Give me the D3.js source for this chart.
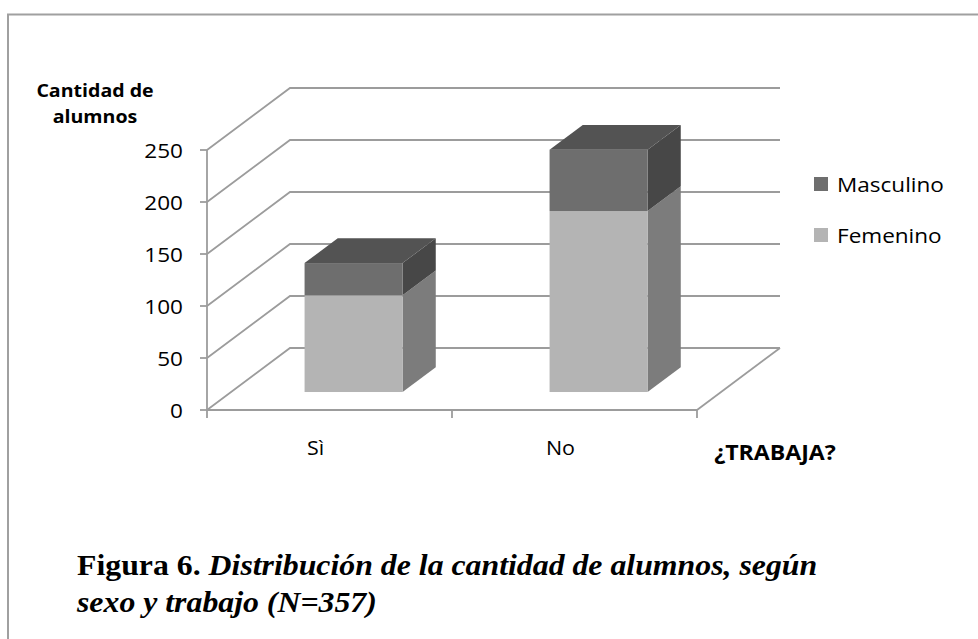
<!DOCTYPE html>
<html>
<head>
<meta charset="utf-8">
<script src="https://cdn.jsdelivr.net/npm/d3@7"></script>
<style>
  html, body { margin: 0; padding: 0; background: #ffffff; }
  svg { display: block; }
</style>
</head>
<body>
<svg id="chart" width="978" height="639"></svg>
<script>
// ---- data ----
const categories = ["Sì", "No"];
const seriesNames = ["Femenino", "Masculino"];
const femenino = [93, 174];
const masculino = [31, 59];
const yTicks = [0, 50, 100, 150, 200, 250];
const legendOrder = ["Masculino", "Femenino"];

// ---- styles ----
const colors = {
  Femenino: { front: "#b4b4b4", side: "#7c7c7c", top: "#9a9a9a" },
  Masculino: { front: "#6e6e6e", side: "#474747", top: "#535353" }
};
const gridColor = "#9c9c9c";
const sx = 1.1; // horizontal stretch of sans text

const svg = d3.select("#chart");

// outer frame
svg.append("path")
  .attr("d", "M8,700 L8,14.5 L1000,14.5")
  .attr("fill", "none").attr("stroke", "#a0a0a0").attr("stroke-width", 2);

// ---- geometry ----
const x0 = 207, x1 = 697;
const y = d3.scaleLinear().domain([0, 250]).range([410, 150]);
const x = d3.scaleBand().domain(categories).range([x0, x1]).paddingInner(0).paddingOuter(0);
const DX = 83, DY = -62;               // full depth offset
const off = f => [DX * f, DY * f];
const fFront = 0.29, fBack = 0.69;      // bar depth position
const barFrac = 0.4;

const g = svg.append("g");

// back wall gridlines + side wall diagonals
yTicks.forEach(t => {
  const yy = y(t);
  const [bx, by] = off(1);
  g.append("path")
    .attr("d", `M${x0},${yy} L${x0 + bx},${yy + by} L${x1 + bx},${yy + by}`)
    .attr("fill", "none").attr("stroke", gridColor).attr("stroke-width", 1.8);
});
// floor right edge
{
  const [bx, by] = off(1);
  g.append("path")
    .attr("d", `M${x1},${y(0)} L${x1 + bx},${y(0) + by}`)
    .attr("fill", "none").attr("stroke", gridColor).attr("stroke-width", 1.8);
}

// ---- bars ----
const stackData = categories.map((c, i) => ({ cat: c, Femenino: femenino[i], Masculino: masculino[i] }));
const stack = d3.stack().keys(seriesNames)(stackData);

categories.forEach((c, i) => {
  const [fx, fy] = off(fFront);
  const [bx2, by2] = off(fBack);
  const ddx = bx2 - fx, ddy = by2 - fy;
  const bw = x.bandwidth() * barFrac;
  const left = x(c) + (x.bandwidth() - bw) / 2 + fx;
  const right = left + bw;
  stack.forEach((layer, li) => {
    const key = layer.key;
    const [v0, v1] = layer[i];
    const yb = y(v0) + fy, yt = y(v1) + fy;
    g.append("path")
      .attr("d", `M${right},${yb} L${right + ddx},${yb + ddy} L${right + ddx},${yt + ddy} L${right},${yt} Z`)
      .attr("fill", colors[key].side);
    g.append("rect")
      .attr("x", left).attr("y", yt).attr("width", bw).attr("height", yb - yt)
      .attr("fill", colors[key].front);
    if (li === stack.length - 1) {
      g.append("path")
        .attr("d", `M${left},${yt} L${left + ddx},${yt + ddy} L${right + ddx},${yt + ddy} L${right},${yt} Z`)
        .attr("fill", colors[key].top);
    }
  });
});

// ---- front axes ----
g.append("line").attr("x1", x0).attr("x2", x0).attr("y1", y(0)).attr("y2", y(250))
  .attr("stroke", gridColor).attr("stroke-width", 1.8);
g.append("line").attr("x1", x0).attr("x2", x1).attr("y1", y(0)).attr("y2", y(0))
  .attr("stroke", gridColor).attr("stroke-width", 1.8);
yTicks.forEach(t => {
  g.append("line").attr("x1", x0 - 7).attr("x2", x0).attr("y1", y(t)).attr("y2", y(t))
    .attr("stroke", gridColor).attr("stroke-width", 1.8);
});
[x0, x(categories[1]), x1].forEach(xx => {
  g.append("line").attr("x1", xx).attr("x2", xx).attr("y1", y(0)).attr("y2", y(0) + 8)
    .attr("stroke", gridColor).attr("stroke-width", 1.8);
});

// helper for stretched text
function stext(px, py, txt, opts) {
  const gg = svg.append("g").attr("transform", `translate(${px},${py}) scale(${sx},1)`);
  return gg.append("text").attr("x", 0).attr("y", 0)
    .attr("font-family", "'Open Sans', sans-serif")
    .attr("font-size", opts.size || 20.5)
    .attr("font-weight", opts.bold ? "bold" : "normal")
    .attr("text-anchor", opts.anchor || "start")
    .attr("fill", "#000")
    .text(txt);
}

// y tick labels
yTicks.forEach(t => stext(183, y(t) + 7.5, String(t), { anchor: "end", size: 20.5 }));

// y-axis title
stext(95, 97, "Cantidad de", { anchor: "middle", bold: true, size: 17.8 });
stext(95, 123, "alumnos", { anchor: "middle", bold: true, size: 17.8 });

// category labels
categories.forEach(c => {
  const cx = x(c) + x.bandwidth() / 2 - 14;
  stext(cx, 455, c, { anchor: "middle", size: 19.5 });
});
// x title
stext(775, 460, "¿TRABAJA?", { anchor: "middle", bold: true, size: 21 });

// legend
legendOrder.forEach((name, i) => {
  const ly = 192 + i * 51;
  svg.append("rect").attr("x", 814).attr("y", ly - 15).attr("width", 14).attr("height", 14)
    .attr("fill", colors[name].front);
  stext(837, ly, name, { size: 20.5 });
});

// caption
const capG1 = svg.append("g").attr("transform", "translate(77,575) scale(1.06,1)");
const cap = capG1.append("text").attr("x", 0).attr("y", 0)
  .attr("font-family", "'Liberation Serif', 'Times New Roman', serif")
  .attr("font-size", 30).attr("font-weight", "bold").attr("fill", "#000");
cap.append("tspan").text("Figura 6. ");
cap.append("tspan").attr("font-style", "italic").text("Distribución de la cantidad de alumnos, según");
svg.append("g").attr("transform", "translate(77,612) scale(1.06,1)")
  .append("text").attr("x", 0).attr("y", 0)
  .attr("font-family", "'Liberation Serif', 'Times New Roman', serif")
  .attr("font-size", 30).attr("font-weight", "bold").attr("font-style", "italic").attr("fill", "#000")
  .text("sexo y trabajo (N=357)");
</script>
</body>
</html>
